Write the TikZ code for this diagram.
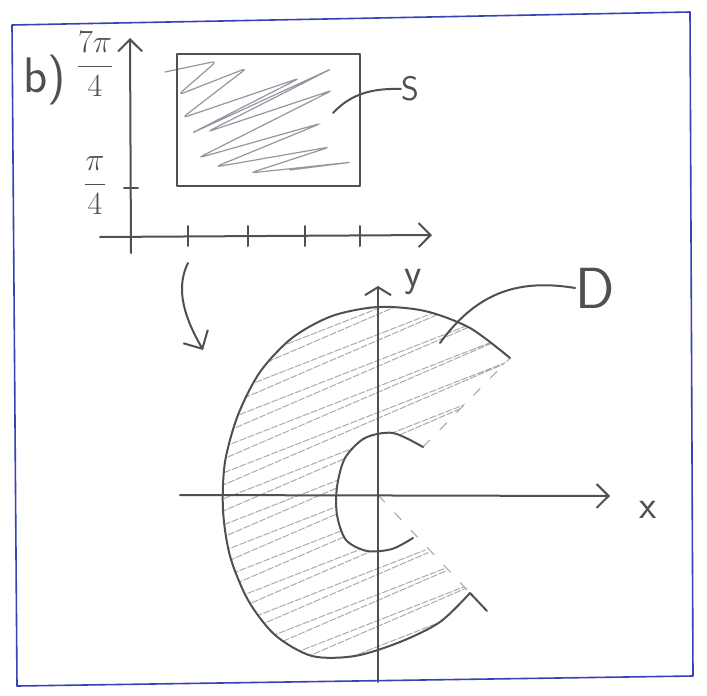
\documentclass[tikz,border=0pt]{standalone}
\usetikzlibrary{arrows.meta}
\definecolor{pencil}{RGB}{80,80,80}
\definecolor{pen}{RGB}{55,65,185}
\definecolor{hatchA}{RGB}{150,150,162}
\definecolor{hatchB}{RGB}{170,170,182}
\begin{document}
\begin{tikzpicture}[x=1pt,y=-1pt,
  line/.style={pencil,line width=2pt,line cap=round,line join=round},
  barb/.style={-{Straight Barb[length=12pt,width=24pt,line width=2pt]}},
  frame/.style={pen,line width=1.6pt,line join=round},
  hatchR/.style={hatchA,line width=1.2pt,rounded corners=6pt,line cap=round},
  hatchD/.style={hatchB,line width=1pt,dash pattern=on 7pt off 1.5pt},
  rad/.style={hatchB,line width=1.1pt,dash pattern=on 10pt off 14pt},
  lbl/.style={pencil,inner sep=0pt,font=\fontsize{40}{44}\selectfont\sffamily},
  frac/.style={pencil,inner sep=0pt,font=\fontsize{24}{26}\selectfont}]
\useasboundingbox (0,0) rectangle (707,696);
\fill[white] (0,0) rectangle (707,696);

% frame
\coordinate (f1) at (12,25);
\coordinate (f2) at (690,12);
\coordinate (f3) at (693,676);
\coordinate (f4) at (17,686);
\draw[frame] (f1) -- (f2) -- (f3) -- (f4) -- cycle;

% ---------- upper diagram ----------
\coordinate (ya0) at (131,253);
\coordinate (ya1) at (130,38);
\coordinate (xa0) at (100,237);
\coordinate (xa1) at (432,235);
\draw[line,barb] (ya0) -- (ya1);
\draw[line,barb] (xa0) -- (xa1);
\foreach \x in {188,248,305,360}{
  \coordinate (tb\x) at (\x,226);
  \coordinate (te\x) at (\x,246);
  \draw[line] (tb\x) -- (te\x);
}
\coordinate (vt0) at (124,188);
\coordinate (vt1) at (138,188);
\draw[line] (vt0) -- (vt1);

\node[lbl,font=\fontsize{50}{54}\selectfont\sffamily] (b) at (45,80) {b)};
\node[frac] (l7) at (95,64) {\scalebox{1.3}{$\displaystyle\frac{7\pi}{4}$}};
\node[frac] (l1) at (95,186) {\scalebox{1.3}{$\displaystyle\frac{\pi}{4}$}};

% rectangle S
\coordinate (r1) at (177,54);
\coordinate (r2) at (360,186);
\draw[hatchR] (165,72) -- (217,61) -- (178,95) -- (247,68) -- (182,118)
  -- (300,78) -- (190,134) -- (333,68) -- (207,132) -- (333,90)
  -- (198,158) -- (322,123) -- (215,167) -- (330,147) -- (250,173)
  -- (353,162) -- (290,170);
\draw[line] (r1) rectangle (r2);
\node[lbl,font=\fontsize{34}{36}\selectfont\sffamily] (S) at (410,89) {S};
\coordinate (sp) at (333,113);
\draw[line] (sp) .. controls (350,95) and (370,88) .. (S.west);

% curved arrow
\coordinate (ca0) at (188,263);
\coordinate (ca1) at (203,350);
\draw[line,-{Straight Barb[length=14pt,width=28pt,line width=2pt]}] (ca0) .. controls (172,295) and (192,330) .. (ca1);

% ---------- lower diagram ----------
\coordinate (O) at (378,495);
\coordinate (oT) at (510,358);
\coordinate (oB) at (470,593);
\coordinate (iT) at (423,447);
\coordinate (iB) at (413,538);

\def\outerpts{(510,358) (470,328) (425,311) (378,307) (332,316) (292,338) (260,372) (238,415) (225,462) (223,510) (230,556) (248,600) (275,635) (312,656) (355,656) (400,642) (440,622) (470,593)}
\def\innerpts{(413,538) (392,549) (367,551) (346,540) (337,515) (337,487) (345,458) (365,438) (393,433) (423,447)}

\begin{scope}
\clip plot[smooth] coordinates {\outerpts} -- plot[smooth] coordinates {\innerpts} -- cycle;
\foreach \i in {0,...,24}{
  \draw[hatchD] (200,{300+26*\i}) -- (520,{175+26*\i}) -- (200,{313+26*\i});
}
\end{scope}

\draw[rad] (iT) -- (oT);
\draw[rad] (O) -- (oB);

\coordinate (xb0) at (180,495);
\coordinate (xb1) at (610,496);
\coordinate (yb0) at (378,682);
\coordinate (yb1) at (378,286);
\draw[line,barb] (xb0) -- (xb1);
\draw[line,-{Straight Barb[length=8pt,width=26pt,line width=2pt]}] (yb0) -- (yb1);
\node[lbl,font=\fontsize{40}{42}\selectfont\sffamily] (xl) at (648,510) {x};
\node[lbl,font=\fontsize{40}{42}\selectfont\sffamily] (yl) at (413,282) {y};

\draw[line] plot[smooth] coordinates {\outerpts};
\coordinate (tk) at (487,611);
\draw[line] (oB) -- (tk);
\draw[line] plot[smooth] coordinates {\innerpts};

\node[lbl,font=\fontsize{58}{60}\selectfont\sffamily] (D) at (595,288) {D};
\coordinate (dp) at (440,343);
\draw[line] (dp) .. controls (475,295) and (515,278) .. (D.west);
\end{tikzpicture}
\end{document}
